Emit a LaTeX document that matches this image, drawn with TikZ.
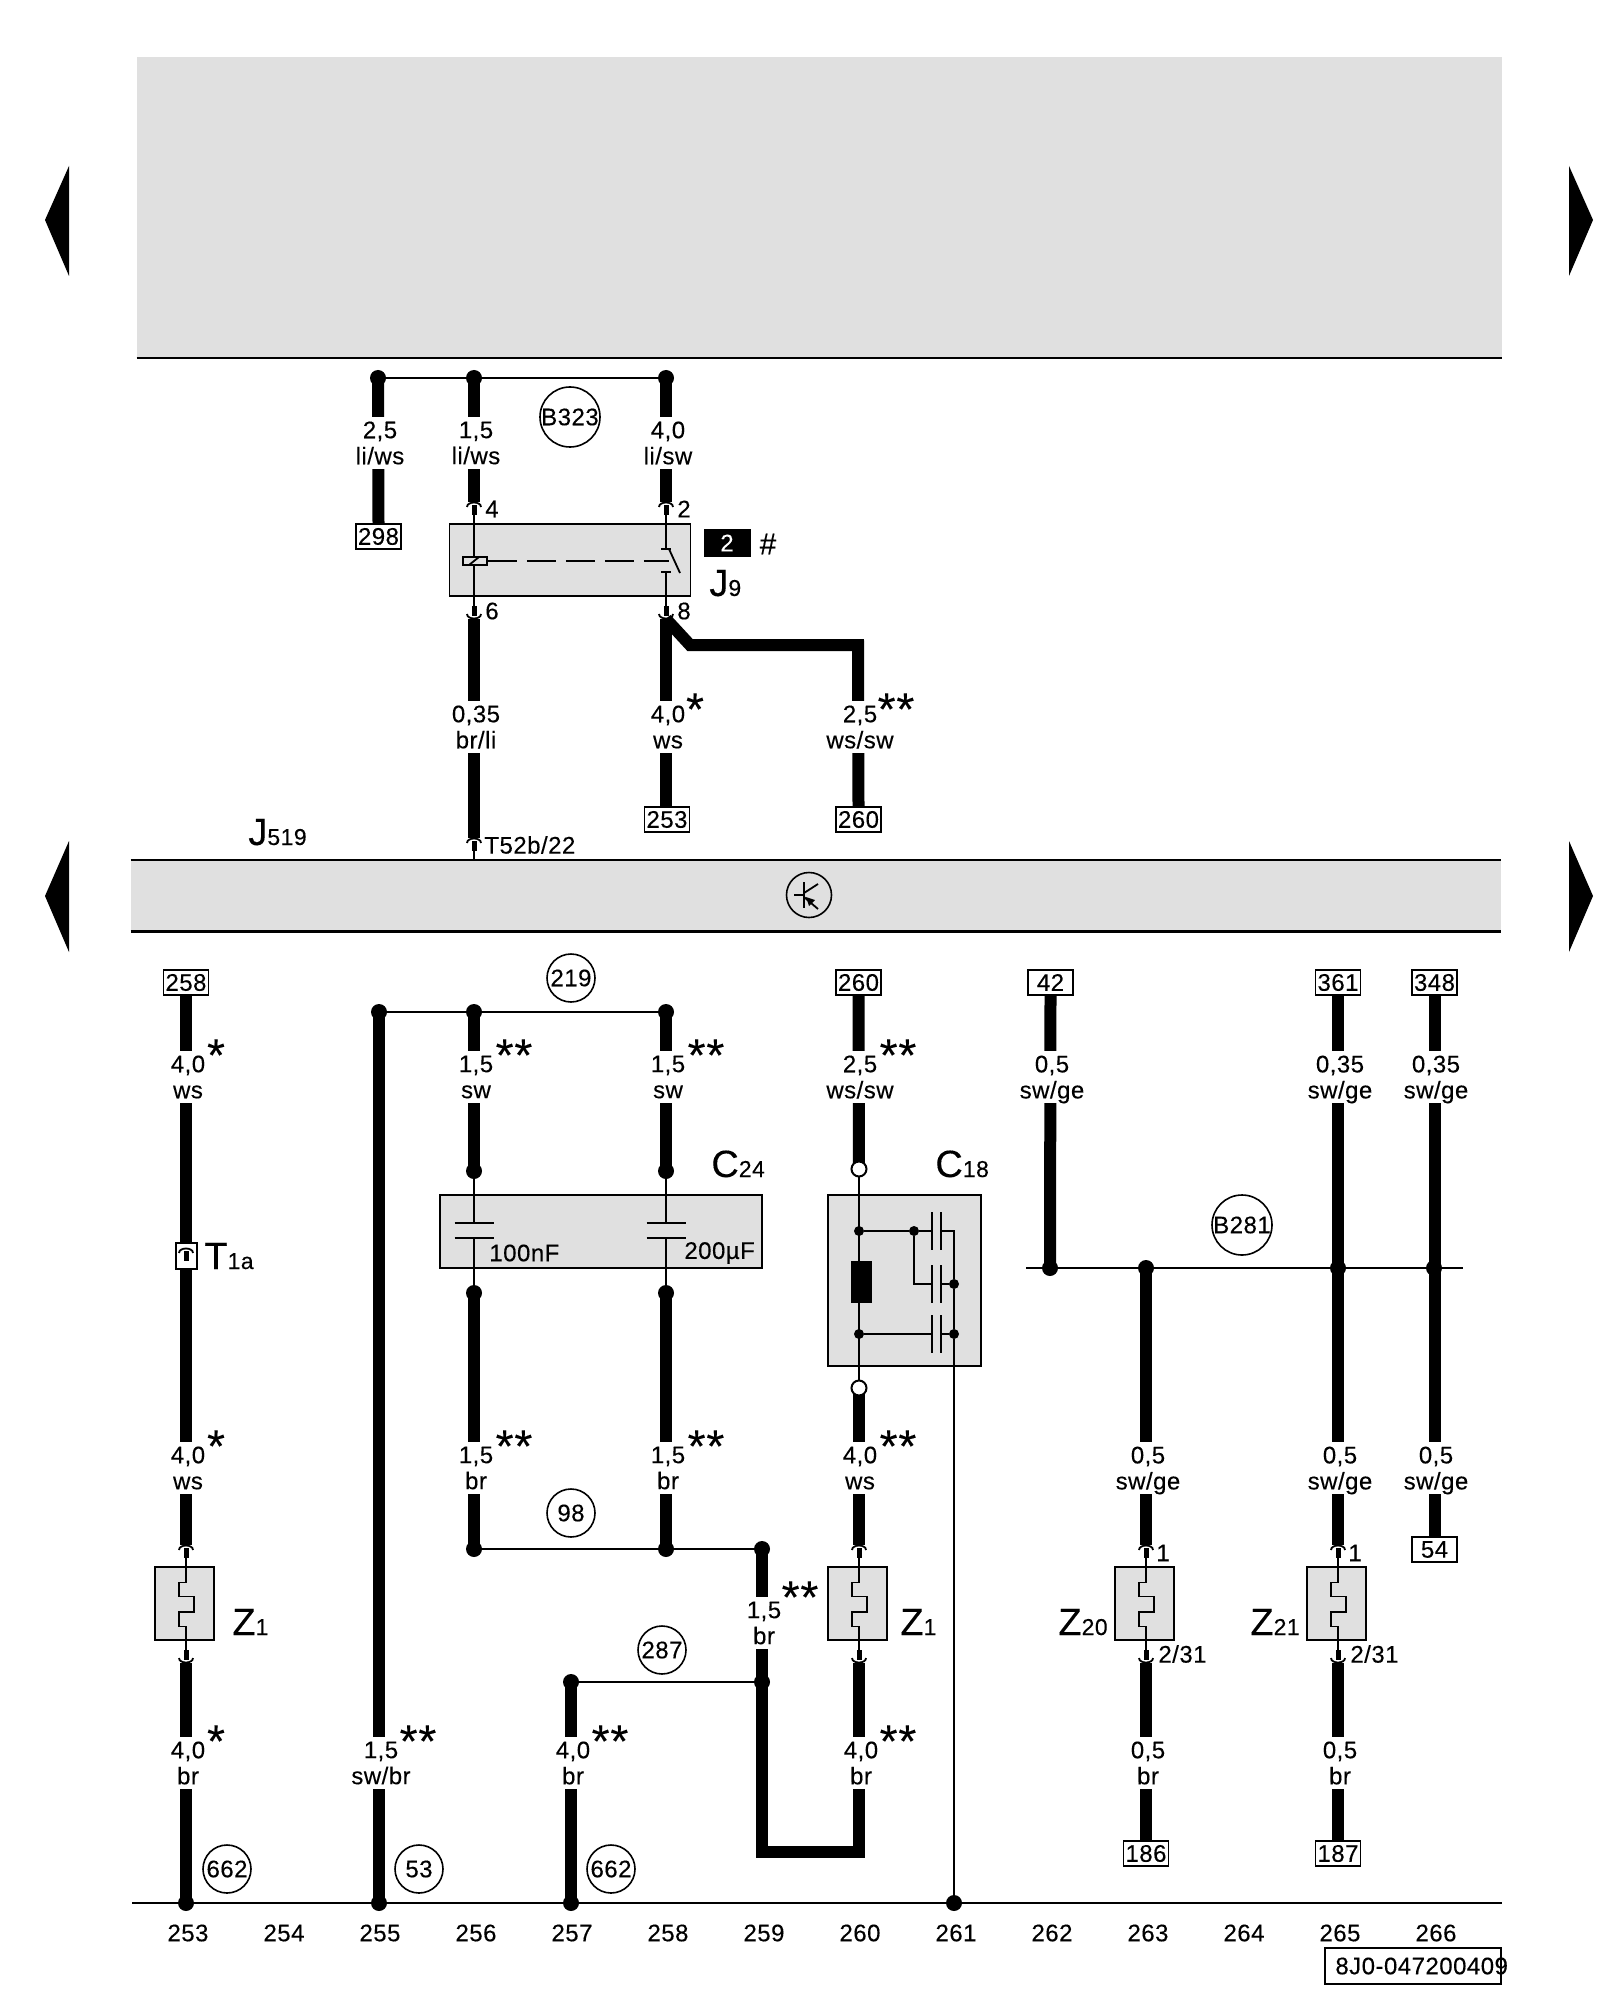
\documentclass[tikz,border=0pt]{standalone}
\usepackage{fontspec}
\setmainfont[LetterSpace=2, FakeBold=0.2]{Liberation Sans}
\definecolor{partgray}{RGB}{224,224,224}
\newcommand{\parttag}[2]{{\fontsize{19}{19}\selectfont #1}{\fontsize{11.5}{12}\selectfont #2}}
\newcommand{\nodepth}[1]{\raisebox{0pt}[\height][0pt]{#1}}
\tikzset{
	wire/.style={line width=6pt, line join=miter},
	fine/.style={line width=0.9pt},
	bandline/.style={line width=1.1pt},
	band/.style={fill=partgray, minimum width=#1},
	partbox/.style={draw, fill=partgray, line width=0.9pt},
	refbox/.style={draw, fill=white, line width=0.8pt, minimum width=22.5pt, minimum height=12.5pt},
	wirelabel/.style={fill=white, align=center, minimum height=26pt, minimum width=6.5pt},
	wirestar/.style={anchor=base, yshift=3pt, font=\fontsize{23}{23}\selectfont},
	wiredot/.style={circle, fill=black, minimum size=8pt},
	smalldot/.style={circle, fill=black, minimum size=5pt},
	opendot/.style={circle, draw, fill=white, line width=1pt, minimum size=7.5pt},
	marker/.style={circle, draw, line width=0.8pt, minimum size=24pt},
	partname/.style={anchor=base west},
	pinup/.pic={
		\fill (-2.5,3) rectangle (2.5,13);
		\draw[fine] (-7,5) .. controls (-7,-1) and (7,-1) .. (7,5);
		\coordinate (-top) at (0,0);
		\coordinate (-tail) at (0,13);
	},
	pindown/.pic={
		\fill (-2.5,-13) rectangle (2.5,-3);
		\draw[fine] (-7,-5) .. controls (-7,1) and (7,1) .. (7,-5);
		\coordinate (-top) at (0,0);
		\coordinate (-tail) at (0,-13);
	},
	fuse/.pic={
		\node[partbox, minimum width=29.5pt, minimum height=36.5pt] (-body) at (-1.5,0){};
		\draw[fine] (0,-46) -- (0,-21) -- (-7,-21) -- (-7,-7) -- (8,-7) -- (8,8.5) -- (-7,8.5) -- (-7,23) -- (0,23) -- (0,46);
		\pic (-up) at (0,-58.5) {pinup};
		\pic (-down) at (0,59.5) {pindown};
		\coordinate (-in) at (0,-58.5);
		\coordinate (-out) at (0,59.5);
	},
}
\begin{document}
\begin{tikzpicture}[x=0.5pt, y=-0.5pt, every node/.style={font=\fontsize{12}{13}\selectfont, inner sep=0pt}]
	\useasboundingbox (0,0) rectangle (1600,2000);
	% Bands and page arrows:
	\node[band=682.5pt, minimum height=150.5pt](TopBand) at (819.5,207.5){};
	\draw[bandline] (TopBand.south west) -- (TopBand.south east);
	\node[band=685pt, minimum height=35.5pt](RelayBand) at (816,895.5){};
	\draw[bandline] (RelayBand.north west) -- (RelayBand.north east);
	\draw[bandline] (RelayBand.south west) -- (RelayBand.south east);
	\fill (69,166) -- (45,220) -- (69,276) -- cycle;
	\fill (69,841) -- (45,896) -- (69,952) -- cycle;
	\fill (1569,166) -- (1593,220) -- (1569,276) -- cycle;
	\fill (1569,841) -- (1593,896) -- (1569,952) -- cycle;
	\node[marker, minimum size=22.5pt](Transistor) at (809,895){};
	\draw[fine] (804,882) -- (804,908);
	\draw[fine] (794,895) -- (804,895);
	\draw[fine] (804,893) -- (818,884);
	\draw[fine] (804,897) -- (818,909);
	\fill (806,897) -- (815,900) -- (809,906) -- cycle;
	\node[partname] (NameJ519) at (248,845){\parttag{J}{519}};
	% Upper part, relay J9:
	\node[wiredot](DotA1) at (378,378){};
	\node[wiredot](DotA2) at (474,378){};
	\node[wiredot](DotA3) at (666,378){};
	\draw[line width=1pt] (DotA1) -- (DotA2) -- (DotA3);
	\node[marker, minimum size=30pt](MarkB323) at (570,417){B323};
	\node[refbox](Ref298) at (378.5,536.5){298};
	\node[refbox](Ref253) at (667,819.5){253};
	\node[refbox](Ref260a) at (858.5,819.5){260};
	\node[partbox, minimum width=120.5pt, minimum height=36pt](RelayJ9) at (570,560){};
	\pic (PinJ4) at (474,502) {pinup};
	\pic (PinJ2) at (666,502) {pinup};
	\pic (PinJ6) at (474,619) {pindown};
	\pic (PinJ8) at (666,619) {pindown};
	\pic (PinT52) at (474,838) {pinup};
	\coordinate (BendA) at (690,645);
	\coordinate (BendB) at (858,645);
	\coordinate (ContactUp) at (666,549);
	\coordinate (ContactDown) at (666,572);
	\draw[fine] (PinJ4-tail) -- (PinJ6-tail);
	\draw[fine] (PinJ2-tail) -- (ContactUp);
	\draw[fine] (ContactDown) -- (PinJ8-tail);
	\draw[fine] (ContactUp) ++(-5,0) -- ++(10,0);
	\draw[fine] (ContactDown) ++(-5,0) -- ++(10,0);
	\draw[fine] (669,549) -- (680,573);
	\node[draw, fill=partgray, line width=0.9pt, minimum width=12pt, minimum height=4pt](CoilJ9) at (475,561){};
	\draw[fine] (469,565) -- (479,557);
	\draw[fine, dash pattern=on 14.5pt off 5pt] (CoilJ9.east) -- (669,561);
	\draw[fine] (PinT52-tail) -- (PinT52-tail |- RelayBand.north);
	\draw[wire] (DotA1.center) -- (Ref298.north);
	\draw[wire] (DotA2.center) -- (PinJ4-top);
	\draw[wire] (DotA3.center) -- (PinJ2-top);
	\draw[wire] (PinJ6-top) -- (PinT52-top);
	\draw[wire] (PinJ8-top) -- (Ref253.north -| PinJ8-top);
	\draw[wire] (PinJ8-top) -- (BendA) -- (BendB) -- (Ref260a.north);
	\node[wirelabel](LabelA1) at (380,443){2,5\\li/ws};
	\node[wirelabel](LabelA2) at (476,443){1,5\\li/ws};
	\node[wirelabel](LabelA3) at (668,443){4,0\\li/sw};
	\node[wirelabel](LabelA4) at (476,727){0,35\\br/li};
	\node[wirelabel](LabelA5) at (668,727){4,0\\ws};
	\node[wirelabel](LabelA6) at (860,727){2,5\\ws/sw};
	\node[wirestar](StarA5) at (695,731){*};
	\node[wirestar](StarA6) at (896,731){**};
	\node(PinNo4) at (492,509){4};
	\node(PinNo2) at (684,509){2};
	\node(PinNo6) at (492,611){6};
	\node(PinNo8) at (684,611){8};
	\node[anchor=west](PinNoT52) at (484,845){T52b/22};
	\node[fill=black, text=white, minimum width=23.5pt, minimum height=14pt](TagTwo) at (727,543){2};
	\node[font=\fontsize{15}{15}\selectfont](TagHash) at (768,544){\#};
	\node[partname](NameJ9) at (709,596){\parttag{J}{9}};
	% Lower part, top references and rails:
	\node[refbox](Ref258) at (186,982.5){258};
	\node[refbox](Ref260b) at (858.5,982.5){260};
	\node[refbox](Ref42) at (1050.5,982.5){42};
	\node[refbox](Ref361) at (1338,982.5){361};
	\node[refbox](Ref348) at (1434.5,982.5){348};
	\node[refbox](Ref54) at (1434.5,1549.5){54};
	\node[refbox](Ref186) at (1146,1853.5){186};
	\node[refbox](Ref187) at (1338,1853.5){187};
	\node[wiredot](DotB1) at (379,1012){};
	\node[wiredot](DotB2) at (474,1012){};
	\node[wiredot](DotB3) at (666,1012){};
	\draw[line width=1pt] (DotB1) -- (DotB2) -- (DotB3);
	\node[marker](Mark219) at (571,978){219};
	\node[wiredot](DotC1) at (474,1171){};
	\node[wiredot](DotC2) at (666,1171){};
	\node[wiredot](DotC3) at (474,1293){};
	\node[wiredot](DotC4) at (666,1293){};
	\node[wiredot](DotD1) at (474,1549){};
	\node[wiredot](DotD2) at (666,1549){};
	\node[wiredot](DotD3) at (762,1549){};
	\draw[line width=1pt] (DotD1) -- (DotD2) -- (DotD3);
	\node[marker](Mark98) at (571,1513){98};
	\node[wiredot](DotE1) at (571,1682){};
	\node[wiredot](DotE2) at (762,1682){};
	\draw[line width=1pt] (DotE1) -- (DotE2);
	\node[marker](Mark287) at (662,1650){287};
	\node[wiredot](DotF1) at (1050,1268){};
	\node[wiredot](DotF2) at (1146,1268){};
	\node[wiredot](DotF3) at (1338,1268){};
	\node[wiredot](DotF4) at (1434,1268){};
	\coordinate (RailFL) at (1026,1268);
	\coordinate (RailFR) at (1463,1268);
	\draw[line width=1pt] (RailFL) -- (RailFR);
	\node[marker, minimum size=30pt](MarkB281) at (1242,1225){B281};
	\coordinate (RailL) at (132,1903);
	\coordinate (RailR) at (1502,1903);
	\draw[line width=1pt] (RailL) -- (RailR);
	\node[wiredot](DotG1) at (186,1903){};
	\node[wiredot](DotG2) at (379,1903){};
	\node[wiredot](DotG3) at (571,1903){};
	\node[wiredot](DotG4) at (954,1903){};
	\node[marker](Mark662a) at (227,1869){662};
	\node[marker](Mark53) at (419,1869){53};
	\node[marker](Mark662b) at (611,1869){662};
	% Capacitor box C24:
	\node[partbox, minimum width=161pt, minimum height=36.5pt](BoxC24) at (601,1231.5){};
	\coordinate (PlateA1) at (474,1223);
	\coordinate (PlateA2) at (474,1238);
	\coordinate (PlateB1) at (666,1223);
	\coordinate (PlateB2) at (666,1238);
	\draw[fine] (DotC1) -- (PlateA1);
	\draw[fine] (PlateA2) -- (DotC3);
	\draw[fine] (DotC2) -- (PlateB1);
	\draw[fine] (PlateB2) -- (DotC4);
	\draw[line width=1pt] (PlateA1) ++(-19.5,0) -- ++(39,0);
	\draw[line width=1pt] (PlateA2) ++(-19.5,0) -- ++(39,0);
	\draw[line width=1pt] (PlateB1) ++(-19.5,0) -- ++(39,0);
	\draw[line width=1pt] (PlateB2) ++(-19.5,0) -- ++(39,0);
	\node[anchor=west](ValueA) at (489,1253){100nF};
	\node[anchor=west](ValueB) at (684,1253){200µF};
	\node[partname](NameC24) at (711,1177){\parttag{C}{24}};
	% Capacitor box C18:
	\node[partbox, minimum width=76.5pt, minimum height=85.5pt](BoxC18) at (904.5,1280.5){};
	\coordinate (JointUp) at (859,1169);
	\coordinate (JointDown) at (859,1388);
	\node[smalldot](DotH1) at (859,1231){};
	\node[smalldot](DotH2) at (859,1334){};
	\node[smalldot](DotH3) at (914,1231){};
	\node[smalldot](DotH4) at (954,1284){};
	\node[smalldot](DotH5) at (954,1334){};
	\coordinate (CapA1) at (932,1231);
	\coordinate (CapA2) at (941,1231);
	\coordinate (CapB1) at (932,1284);
	\coordinate (CapB2) at (941,1284);
	\coordinate (CapC1) at (932,1334);
	\coordinate (CapC2) at (941,1334);
	\coordinate (CornerA) at (954,1231);
	\draw[fine] (JointUp) -- (JointDown);
	\draw[fine] (DotH1) -- (DotH3) -- (CapA1);
	\draw[fine] (CapA2) -- (CornerA) -- (DotH4) -- (DotH5) -- (DotG4);
	\draw[fine] (DotH3) |- (CapB1);
	\draw[fine] (CapB2) -- (DotH4);
	\draw[fine] (DotH2) -- (CapC1);
	\draw[fine] (CapC2) -- (DotH5);
	\draw[fine] (CapA1) ++(0,-19) -- ++(0,38);
	\draw[fine] (CapA2) ++(0,-19) -- ++(0,38);
	\draw[fine] (CapB1) ++(0,-19) -- ++(0,38);
	\draw[fine] (CapB2) ++(0,-19) -- ++(0,38);
	\draw[fine] (CapC1) ++(0,-19) -- ++(0,38);
	\draw[fine] (CapC2) ++(0,-19) -- ++(0,38);
	\node[fill=black, minimum width=10.5pt, minimum height=21pt](CoilC18) at (861,1282){};
	\node[partname](NameC18) at (935,1177){\parttag{C}{18}};
	% Fuses and wires:
	\pic (FuseA) at (186,1603.5) {fuse};
	\pic (FuseB) at (859,1603.5) {fuse};
	\pic (FuseC) at (1146,1603.5) {fuse};
	\pic (FuseD) at (1338,1603.5) {fuse};
	\coordinate (BendC) at (762,1851.5);
	\coordinate (BendD) at (859,1851.5);
	\draw[wire] (Ref258.south) -- (FuseA-in);
	\draw[wire] (FuseA-out) -- (DotG1.center);
	\draw[wire] (DotB1.center) -- (DotG2.center);
	\draw[wire] (DotB2.center) -- (DotC1.center);
	\draw[wire] (DotC3.center) -- (DotD1.center);
	\draw[wire] (DotB3.center) -- (DotC2.center);
	\draw[wire] (DotC4.center) -- (DotD2.center);
	\draw[wire] (DotE1.center) -- (DotG3.center);
	\draw[wire] (DotD3.center) -- (BendC) -- (BendD) -- (FuseB-out);
	\draw[wire] (Ref260b.south) -- (JointUp);
	\draw[wire] (JointDown) -- (FuseB-in);
	\draw[wire] (Ref42.south) -- (DotF1.center);
	\draw[wire] (DotF2.center) -- (FuseC-in);
	\draw[wire] (FuseC-out) -- (Ref186.north);
	\draw[wire] (Ref361.south) -- (FuseD-in);
	\draw[wire] (FuseD-out) -- (Ref187.north);
	\draw[wire] (Ref348.south) -- (Ref54.north);
	\node[opendot](OpenUp) at (JointUp){};
	\node[opendot](OpenDown) at (JointDown){};
	\node[draw, fill=white, line width=0.8pt, minimum width=10.5pt, minimum height=13pt](PlugT1a) at (186.5,1256){};
	\pic (PinT1a) at (186,1248) {pinup};
	\node[partname](NameT1a) at (204,1269){\parttag{T}{1a}};
	\node[partname](NameZ1a) at (232,1635){\parttag{Z}{1}};
	\node[partname](NameZ1b) at (900,1635){\parttag{Z}{1}};
	\node[partname](NameZ20) at (1058,1635){\parttag{Z}{20}};
	\node[partname](NameZ21) at (1250,1635){\parttag{Z}{21}};
	\node(PinNo1a) at (1163,1553){1};
	\node(PinNo1b) at (1355,1553){1};
	\node[anchor=west](PinNo31a) at (1158,1654){2/31};
	\node[anchor=west](PinNo31b) at (1350,1654){2/31};
	% Wire labels:
	\node[wirelabel](LabelB1) at (188,1077){4,0\\ws};
	\node[wirelabel](LabelB2) at (476,1077){1,5\\sw};
	\node[wirelabel](LabelB3) at (668,1077){1,5\\sw};
	\node[wirelabel](LabelB4) at (860,1077){2,5\\ws/sw};
	\node[wirelabel](LabelB5) at (1052,1077){0,5\\\nodepth{sw/ge}};
	\node[wirelabel](LabelB6) at (1340,1077){0,35\\\nodepth{sw/ge}};
	\node[wirelabel](LabelB7) at (1436,1077){0,35\\\nodepth{sw/ge}};
	\node[wirelabel](LabelC1) at (188,1468){4,0\\ws};
	\node[wirelabel](LabelC2) at (476,1468){1,5\\br};
	\node[wirelabel](LabelC3) at (668,1468){1,5\\br};
	\node[wirelabel](LabelC4) at (860,1468){4,0\\ws};
	\node[wirelabel](LabelC5) at (1148,1468){0,5\\\nodepth{sw/ge}};
	\node[wirelabel](LabelC6) at (1340,1468){0,5\\\nodepth{sw/ge}};
	\node[wirelabel](LabelC7) at (1436,1468){0,5\\\nodepth{sw/ge}};
	\node[wirelabel](LabelD1) at (764,1623){1,5\\br};
	\node[wirelabel](LabelE1) at (188,1763){4,0\\br};
	\node[wirelabel](LabelE2) at (381,1763){1,5\\sw/br};
	\node[wirelabel](LabelE3) at (573,1763){4,0\\br};
	\node[wirelabel](LabelE4) at (861,1763){4,0\\br};
	\node[wirelabel](LabelE5) at (1148,1763){0,5\\br};
	\node[wirelabel](LabelE6) at (1340,1763){0,5\\br};
	\node[wirestar](StarB1) at (216,1077){*};
	\node[wirestar](StarB2) at (514,1077){**};
	\node[wirestar](StarB3) at (706,1077){**};
	\node[wirestar](StarB4) at (898,1077){**};
	\node[wirestar](StarC1) at (216,1468){*};
	\node[wirestar](StarC2) at (514,1468){**};
	\node[wirestar](StarC3) at (706,1468){**};
	\node[wirestar](StarC4) at (898,1468){**};
	\node[wirestar](StarD1) at (800,1619){**};
	\node[wirestar](StarE1) at (216,1763){*};
	\node[wirestar](StarE2) at (418,1763){**};
	\node[wirestar](StarE3) at (610,1763){**};
	\node[wirestar](StarE4) at (898,1763){**};
	% Column numbers and drawing number:
	\node(Col253) at (188,1933){253};
	\node(Col254) at (284,1933){254};
	\node(Col255) at (380,1933){255};
	\node(Col256) at (476,1933){256};
	\node(Col257) at (572,1933){257};
	\node(Col258) at (668,1933){258};
	\node(Col259) at (764,1933){259};
	\node(Col260) at (860,1933){260};
	\node(Col261) at (956,1933){261};
	\node(Col262) at (1052,1933){262};
	\node(Col263) at (1148,1933){263};
	\node(Col264) at (1244,1933){264};
	\node(Col265) at (1340,1933){265};
	\node(Col266) at (1436,1933){266};
	\node[draw, line width=0.9pt, minimum width=88pt, minimum height=18pt](DrawingBox) at (1413,1966){};
	\node[anchor=west](DrawingNo) at (1335,1966){8J0-047200409};
\end{tikzpicture}
\end{document}
